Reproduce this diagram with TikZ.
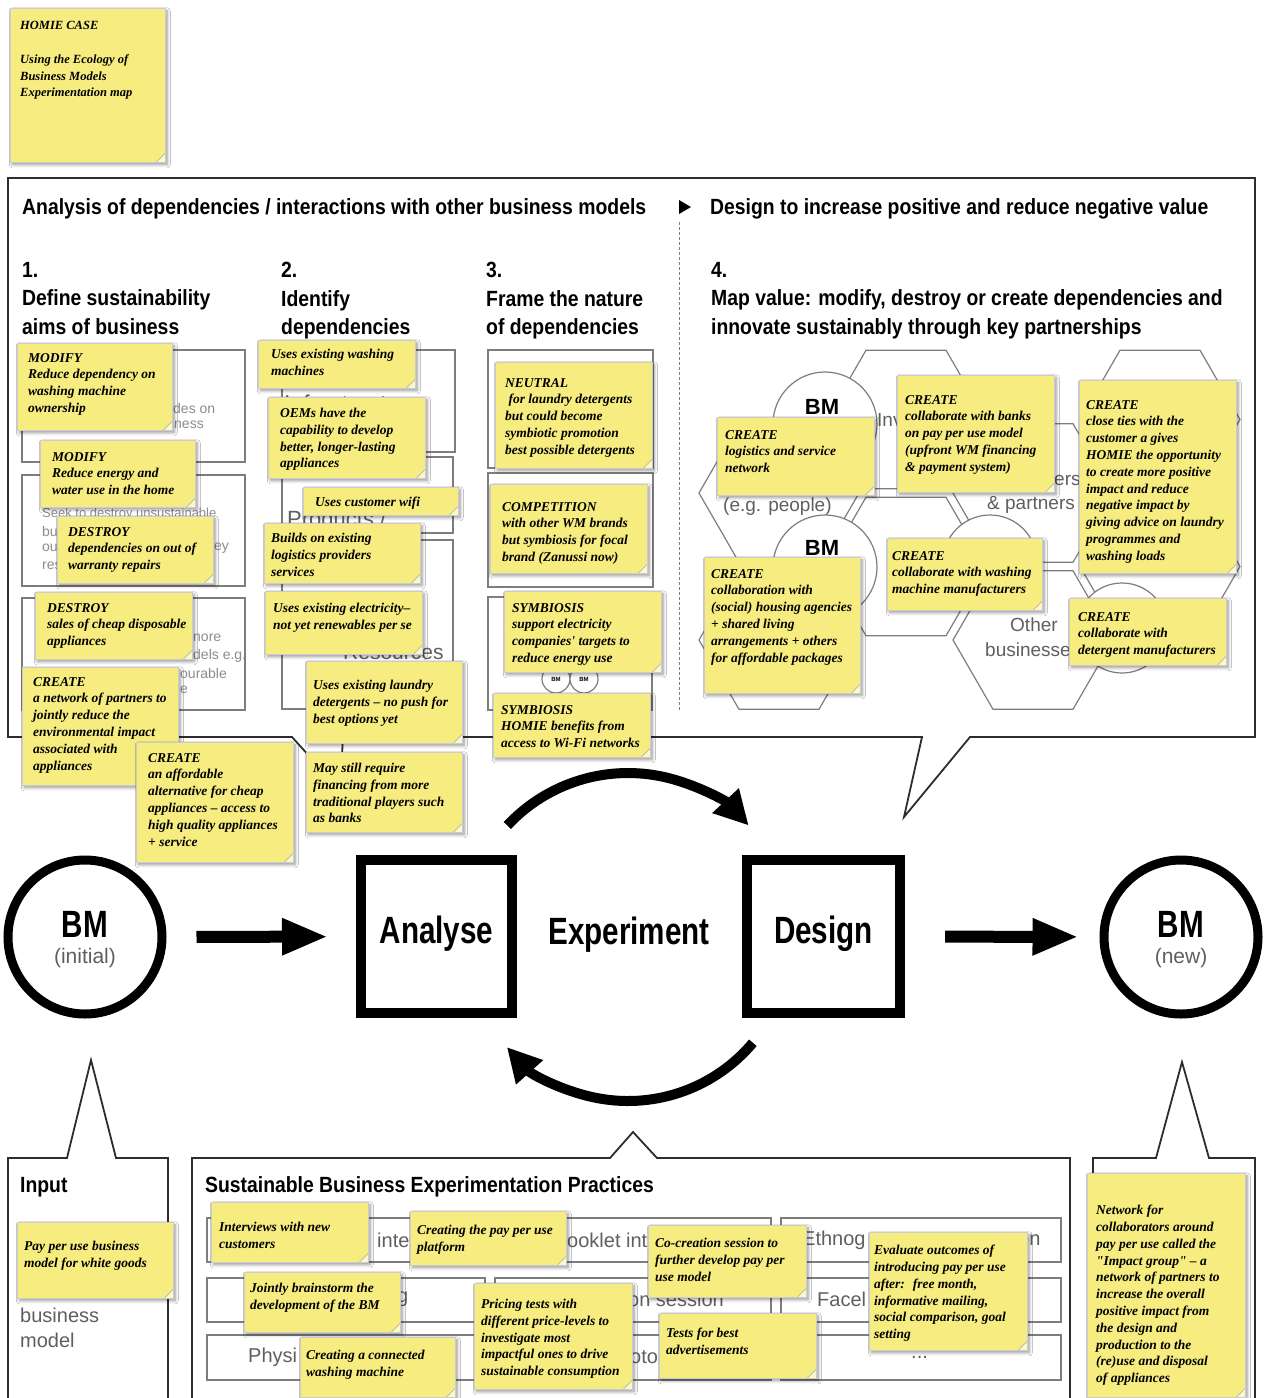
\documentclass[tikz,border=0pt]{standalone}
\usepackage{fontspec}
\setmainfont{Liberation Sans}
\newfontfamily\condfont[FakeStretch=0.78]{Liberation Sans}
\newfontfamily\titfont[FakeStretch=0.88]{Liberation Sans}
\newfontfamily\notafont{Liberation Serif}
\usetikzlibrary{arrows.meta,positioning,shapes.geometric,shadows.blur}

\definecolor{notaamarillo}{RGB}{246,236,128}
\definecolor{notapliegue}{RGB}{252,248,205}
\definecolor{lineagris}{RGB}{125,125,125}
\definecolor{textogris}{RGB}{95,95,95}
\definecolor{fraggris}{RGB}{140,140,140}
\definecolor{marco}{RGB}{45,45,45}

\tikzset{
  nota/.style={anchor=north west, fill=notaamarillo, draw=black!20, line width=0.5pt, inner sep=0pt,
    blur shadow={shadow xshift=2pt, shadow yshift=-2.5pt, shadow blur steps=5, shadow blur radius=3pt, shadow opacity=40},
    path picture={
      \fill[notapliegue] ([xshift=-9pt]path picture bounding box.south east) -- ([yshift=9pt]path picture bounding box.south east) -- (path picture bounding box.south east) -- cycle;
      \draw[black!35, line width=0.5pt] ([xshift=-9pt]path picture bounding box.south east) -- ([yshift=9pt]path picture bounding box.south east);}},
  notatxt/.style={anchor=north west, inner sep=0pt, align=left, font=\notafont\bfseries\itshape\fontsize{13.5}{16.8}\selectfont},
  titulo/.style={inner sep=0pt, align=left, font=\titfont\bfseries\fontsize{22}{28.5}\selectfont},
  grande/.style={inner sep=0pt, font=\condfont\bfseries\fontsize{38}{40}\selectfont},
  plant/.style={anchor=west, inner sep=0pt, text=textogris, font=\fontsize{19}{22}\selectfont},
  frag/.style={anchor=west, inner sep=0pt, text=fraggris, font=\fontsize{14}{16}\selectfont},
  hexa/.style={regular polygon, regular polygon sides=6, minimum size=160pt, draw=lineagris, line width=1.2pt, inner sep=0pt},
  bmchico/.style={circle, draw=lineagris, fill=white, line width=1.2pt, inner sep=0pt},
  caja/.style={draw=lineagris, line width=1.2pt},
  bmgrande/.style={circle, draw=black, line width=9pt, minimum size=154pt, inner sep=0pt},
  paso/.style={rectangle, draw=black, line width=10pt, minimum height=153pt, inner sep=0pt},
  flecha/.style={line width=12pt, -{Triangle[length=46pt, width=34pt]}},
  cicloflecha/.style={line width=10pt, -{Triangle[length=34pt, width=34pt]}},
  burbuja/.style={draw=marco, line width=1.8pt, line join=miter}
}

\begin{document}
\begin{tikzpicture}[x=1pt, y=-1pt]
\useasboundingbox (0,0) rectangle (1265,1398);
\fill[white] (0,0) rectangle (1265,1398);

% Nota portada
\node[nota, minimum width=155pt, minimum height=154pt] (ncaso) at (10,8) {};
\node[notatxt, font=\notafont\bfseries\itshape\fontsize{12.5}{16.5}\selectfont, below right=13pt and 10pt of ncaso.north west] (ncasot) {HOMIE CASE\\[18pt]Using the Ecology of\\Business Models\\Experimentation map};

% Burbuja superior
\draw[burbuja] (8,178) -- (1255,178) -- (1255,737) -- (970,737) -- (904,817) -- (922,737) -- (343,737) -- (340,790) -- (292,737) -- (8,737) -- cycle;

% Titulos
\node[titulo, anchor=base west] (tanalisis) at (22,214) {Analysis of dependencies / interactions with other business models};
\node[titulo, anchor=base west] (tdiseno) at (710,214) {Design to increase positive and reduce negative value};
\fill[black] (679,200) -- (691,207) -- (679,214) -- cycle;
\draw[lineagris, line width=1pt, dash pattern=on 3pt off 2pt] (679,222) -- (679,712);

\node[titulo, anchor=north west] (paso1) at (22,262) {1.\\Define sustainability\\aims of business};
\node[titulo, anchor=north west] (paso2) at (281,262) {2.\\Identify\\dependencies};
\node[titulo, anchor=north west] (paso3) at (486,262) {3.\\Frame the nature\\of dependencies};
\node[titulo, anchor=north west] (paso4) at (711,262) {4.\\Map value: modify, destroy or create dependencies and\\innovate sustainably through key partnerships};

% Plantilla columna 1
\draw[caja] (22,350) rectangle (245,462);
\draw[caja] (22,475) rectangle (245,586);
\draw[caja] (22,598) rectangle (245,710);
\node[frag] (f1a) at (173,408) {des on};
\node[frag] (f1b) at (174,425) {ness};
\node[frag, font=\fontsize{13}{15}\selectfont] (f2a) at (42,514) {Seek to destroy unsustainable};
\node[frag] (f2b) at (42,531) {bu};
\node[frag] (f2c) at (42,548) {ou};
\node[frag] (f2d) at (42,566) {res};
\node[frag] (f2e) at (214,548) {ey};
\node[frag] (f3a) at (193,638) {nore};
\node[frag] (f3b) at (193,656) {dels e.g.};
\node[frag] (f3c) at (180,673) {ourable};
\node[frag] (f3d) at (180,690) {e};

% Plantilla columna 2
\draw[caja] (282,350) rectangle (455,452);
\draw[caja] (282,457) rectangle (453,533);
\draw[caja] (282,540) rectangle (453,709);
\node[plant, font=\fontsize{23}{26}\selectfont] (g2a) at (284,403) {Infrastructure};
\node[plant, font=\fontsize{22}{26}\selectfont] (g2b) at (287,519) {Products /};
\node[plant, font=\fontsize{21}{24}\selectfont] (g2c) at (343,652) {Resources};

% Plantilla columna 3
\draw[caja] (488,350) rectangle (653,468);
\draw[caja] (488,473) rectangle (653,587);
\draw[caja] (488,597) rectangle (652,710);
\node[bmchico, minimum size=28pt, font=\bfseries\fontsize{6}{7}\selectfont] (cbm5) at (556,679) {BM};
\node[bmchico, minimum size=28pt, font=\bfseries\fontsize{6}{7}\selectfont] (cbm6) at (584,679) {BM};

% Hexagonos columna 4
\node[hexa] (hx1) at (779,493) {};
\node[hexa] (hx2) at (779,640) {};
\node[hexa] (hx3) at (906,419.5) {};
\node[hexa] (hx4) at (906,566.5) {};
\node[hexa] (hx5) at (1033,493) {};
\node[hexa] (hx6) at (1033,640) {};
\node[hexa] (hx7) at (1160,419.5) {};
\node[hexa] (hx8) at (1160,566.5) {};
\node[bmchico, minimum size=104pt] (cbm1) at (825,424) {};
\node[bmchico, minimum size=104pt] (cbm2) at (825,567) {};
\node[bmchico, minimum size=94pt] (cbm3) at (990,562) {};
\node[bmchico, minimum size=90pt] (cbm4) at (1122,628) {};
\node[inner sep=0pt, font=\bfseries\fontsize{22}{24}\selectfont] (tbm1) at (822,407) {BM};
\node[inner sep=0pt, font=\bfseries\fontsize{22}{24}\selectfont] (tbm2) at (822,548) {BM};
\node[plant] (g4a) at (877,420) {Inv};
\node[plant] (g4b) at (1054,480) {ers};
\node[plant] (g4c) at (987,505) {\& partners};
\node[plant] (g4d) at (723,507) {(e.g. people)};
\node[plant] (g4e) at (1010,625) {Other};
\node[plant] (g4f) at (985,650) {businesses};

% Notas columna 1
\node[nota, minimum width=155pt, minimum height=87pt] (nmod1) at (17,343) {};
\node[notatxt, below right=10pt and 11pt of nmod1.north west] (nmod1t) {MODIFY\\Reduce dependency on\\washing machine\\ownership};
\node[nota, minimum width=155pt, minimum height=67pt] (nmod2) at (40,440) {};
\node[notatxt, below right=12pt and 12pt of nmod2.north west] (nmod2t) {MODIFY\\Reduce energy and\\water use in the home};
\node[nota, minimum width=156pt, minimum height=67pt] (ndes1) at (57,516) {};
\node[notatxt, below right=11pt and 11pt of ndes1.north west] (ndes1t) {DESTROY\\dependencies on out of\\warranty repairs};
\node[nota, minimum width=157pt, minimum height=67pt] (ndes2) at (35,592) {};
\node[notatxt, below right=11pt and 12pt of ndes2.north west] (ndes2t) {DESTROY\\sales of cheap disposable\\appliances};
\node[nota, minimum width=156pt, minimum height=118pt] (ncre1) at (22,667) {};
\node[notatxt, below right=10pt and 11pt of ncre1.north west] (ncre1t) {CREATE\\a network of partners to\\jointly reduce the\\environmental impact\\associated with\\appliances};
\node[nota, minimum width=157pt, minimum height=120pt] (ncre2) at (136,742) {};
\node[notatxt, below right=11pt and 12pt of ncre2.north west] (ncre2t) {CREATE\\an affordable\\alternative for cheap\\appliances – access to\\high quality appliances\\+ service};

% Notas columna 2
\node[nota, minimum width=157pt, minimum height=48pt] (ndep1) at (258,340) {};
\node[notatxt, below right=9pt and 13pt of ndep1.north west] (ndep1t) {Uses existing washing\\machines};
\node[nota, minimum width=157pt, minimum height=81pt] (ndep2) at (268,397) {};
\node[notatxt, below right=11pt and 12pt of ndep2.north west] (ndep2t) {OEMs have the\\capability to develop\\better, longer-lasting\\appliances};
\node[nota, minimum width=155pt, minimum height=28pt] (ndep3) at (303,487) {};
\node[notatxt, below right=10pt and 12pt of ndep3.north west] (ndep3t) {Uses customer wifi};
\node[nota, minimum width=156pt, minimum height=60pt] (ndep4) at (264,523) {};
\node[notatxt, below right=10pt and 7pt of ndep4.north west] (ndep4t) {Builds on existing\\logistics providers\\services};
\node[nota, minimum width=157pt, minimum height=63pt] (ndep5) at (265,591) {};
\node[notatxt, below right=12pt and 8pt of ndep5.north west] (ndep5t) {Uses existing electricity–\\not yet renewables per se};
\node[nota, minimum width=156pt, minimum height=82pt] (ndep6) at (306,661) {};
\node[notatxt, below right=19pt and 7pt of ndep6.north west] (ndep6t) {Uses existing laundry\\detergents – no push for\\best options yet};
\node[nota, minimum width=156pt, minimum height=80pt] (ndep7) at (306,752) {};
\node[notatxt, below right=11pt and 7pt of ndep7.north west] (ndep7t) {May still require\\financing from more\\traditional players such\\as banks};

% Notas columna 3
\node[nota, minimum width=157pt, minimum height=106pt] (nnat1) at (495,362) {};
\node[notatxt, below right=16pt and 10pt of nnat1.north west] (nnat1t) {NEUTRAL\\\ for laundry detergents\\but could become\\symbiotic promotion\\best possible detergents};
\node[nota, minimum width=157pt, minimum height=89pt] (nnat2) at (490,484) {};
\node[notatxt, below right=18pt and 12pt of nnat2.north west] (nnat2t) {COMPETITION\\with other WM brands\\but symbiosis for focal\\brand (Zanussi now)};
\node[nota, minimum width=157pt, minimum height=81pt] (nnat3) at (504,591) {};
\node[notatxt, below right=12pt and 8pt of nnat3.north west] (nnat3t) {SYMBIOSIS\\support electricity\\companies' targets to\\reduce energy use};
\node[nota, minimum width=157pt, minimum height=64pt] (nnat4) at (493,693) {};
\node[notatxt, below right=12pt and 8pt of nnat4.north west] (nnat4t) {SYMBIOSIS\\HOMIE benefits from\\access to Wi-Fi networks};

% Notas columna 4
\node[nota, minimum width=157pt, minimum height=78pt] (nval1) at (717,417) {};
\node[notatxt, below right=13pt and 8pt of nval1.north west] (nval1t) {CREATE\\logistics and service\\network};
\node[nota, minimum width=157pt, minimum height=117pt] (nval2) at (897,375) {};
\node[notatxt, below right=20pt and 8pt of nval2.north west] (nval2t) {CREATE\\collaborate with banks\\on pay per use model\\(upfront WM financing\\\& payment system)};
\node[nota, minimum width=157pt, minimum height=193pt] (nval3) at (1079,380) {};
\node[notatxt, below right=20pt and 7pt of nval3.north west] (nval3t) {CREATE\\close ties with the\\customer a gives\\HOMIE the opportunity\\to create more positive\\impact and reduce\\negative impact by\\giving advice on laundry\\programmes and\\washing loads};
\node[nota, minimum width=155pt, minimum height=72pt] (nval4) at (887,538) {};
\node[notatxt, below right=13pt and 5pt of nval4.north west] (nval4t) {CREATE\\collaborate with washing\\machine manufacturers};
\node[nota, minimum width=156pt, minimum height=136pt] (nval5) at (704,557) {};
\node[notatxt, below right=12pt and 7pt of nval5.north west] (nval5t) {CREATE\\collaboration with\\(social) housing agencies\\+ shared living\\arrangements + others\\for affordable packages};
\node[nota, minimum width=157pt, minimum height=67pt] (nval6) at (1069,598) {};
\node[notatxt, below right=14pt and 9pt of nval6.north west] (nval6t) {CREATE\\collaborate with\\detergent manufacturers};

% Ciclo central
\node[bmgrande] (bmini) at (85,937) {};
\node[inner sep=0pt, font=\condfont\bfseries\fontsize{38}{40}\selectfont] (bminit) at (85,924) {BM};
\node[inner sep=0pt, text=textogris, font=\fontsize{21}{24}\selectfont] (bminis) at (85,958) {(initial)};
\node[paso, minimum width=151pt] (analyse) at (436.5,936.5) {};
\node[grande] (analyset) at (436.5,934) {Analyse};
\node[grande] (experiment) at (629,935) {Experiment};
\node[paso, minimum width=153pt] (design) at (823.5,936.5) {};
\node[grande] (designt) at (823.5,934) {Design};
\node[bmgrande] (bmnew) at (1181,937) {};
\node[inner sep=0pt, font=\condfont\bfseries\fontsize{38}{40}\selectfont] (bmnewt) at (1181,924) {BM};
\node[inner sep=0pt, text=textogris, font=\fontsize{21}{24}\selectfont] (bmnews) at (1181,958) {(new)};
\draw[flecha, shorten <=30pt, shorten >=28pt] (bmini) -- (analyse);
\draw[flecha, shorten <=40pt, shorten >=21pt] (design) -- (bmnew);
\coordinate (ciclo) at (628,938);
\draw[cicloflecha] ([shift={(-137:165)}]ciclo) arc[start angle=-137, end angle=-43, radius=165];
\draw[cicloflecha] ([shift={(40:163)}]ciclo) arc[start angle=40, end angle=138, radius=163];

% Cajas inferiores
\draw[burbuja] (8,1402) -- (8,1158) -- (67,1158) -- (91,1060) -- (116,1158) -- (168,1158) -- (168,1402);
\draw[burbuja] (192,1402) -- (192,1158) -- (610,1158) -- (633,1132) -- (657,1158) -- (1070,1158) -- (1070,1402);
\draw[burbuja] (1093,1402) -- (1093,1158) -- (1156,1158) -- (1182,1062) -- (1209,1158) -- (1255,1158) -- (1255,1402);
\node[titulo, anchor=base west] (tinput) at (20,1192) {Input};
\node[titulo, anchor=base west] (tpracticas) at (205,1192) {Sustainable Business Experimentation Practices};
\node[plant, font=\fontsize{20}{24}\selectfont] (gbus) at (20,1315) {business};
\node[plant, font=\fontsize{20}{24}\selectfont] (gmod) at (20,1340) {model};

% Rejilla de practicas
\draw[caja] (207,1218) rectangle (485,1262);
\draw[caja] (495,1218) rectangle (771,1262);
\draw[caja] (781,1218) rectangle (1061,1262);
\draw[caja] (207,1278) rectangle (485,1322);
\draw[caja] (495,1278) rectangle (771,1322);
\draw[caja] (781,1278) rectangle (1061,1322);
\draw[caja] (207,1335) rectangle (485,1380);
\draw[caja] (495,1335) rectangle (771,1380);
\draw[caja] (781,1335) rectangle (1061,1380);
\node[plant, font=\fontsize{20}{24}\selectfont] (p1a) at (377,1240) {inte};
\node[plant, font=\fontsize{20}{24}\selectfont] (p1b) at (567,1240) {ooklet int};
\node[plant, font=\fontsize{20}{24}\selectfont] (p1c) at (802,1240) {Ethnog};
\node[plant, font=\fontsize{20}{24}\selectfont] (p1d) at (1018,1240) {on};
\node[plant, font=\fontsize{20}{24}\selectfont] (p2a) at (397,1299) {g};
\node[plant, font=\fontsize{20}{24}\selectfont] (p2b) at (628,1299) {on session};
\node[plant, font=\fontsize{20}{24}\selectfont] (p2c) at (817,1299) {Facel};
\node[plant, font=\fontsize{20}{24}\selectfont] (p3a) at (248,1357) {Physi};
\node[plant, font=\fontsize{20}{24}\selectfont] (p3b) at (630,1357) {oto};
\node[plant, font=\fontsize{20}{24}\selectfont] (p3c) at (911,1357) {...};

% Notas inferiores
\node[nota, minimum width=156pt, minimum height=76pt] (nent) at (17,1222) {};
\node[notatxt, below right=19pt and 7pt of nent.north west] (nentt) {Pay per use business\\model for white goods};
\node[nota, minimum width=157pt, minimum height=60pt] (nexp1) at (211,1202) {};
\node[notatxt, below right=20pt and 8pt of nexp1.north west] (nexp1t) {Interviews with new\\customers};
\node[nota, minimum width=156pt, minimum height=54pt] (nexp2) at (410,1211) {};
\node[notatxt, below right=14pt and 7pt of nexp2.north west] (nexp2t) {Creating the pay per use\\platform};
\node[nota, minimum width=156pt, minimum height=60pt] (nexp3) at (244,1272) {};
\node[notatxt, below right=11pt and 6pt of nexp3.north west] (nexp3t) {Jointly brainstorm the\\development of the BM};
\node[nota, minimum width=158pt, minimum height=106pt] (nexp4) at (474,1283) {};
\node[notatxt, below right=16pt and 7pt of nexp4.north west] (nexp4t) {Pricing tests with\\different price-levels to\\investigate most\\impactful ones to drive\\sustainable consumption};
\node[nota, minimum width=155pt, minimum height=60pt] (nexp5) at (300,1337) {};
\node[notatxt, below right=13pt and 6pt of nexp5.north west] (nexp5t) {Creating a connected\\washing machine};
\node[nota, minimum width=158pt, minimum height=72pt] (nexp6) at (648,1225) {};
\node[notatxt, below right=13pt and 7pt of nexp6.north west] (nexp6t) {Co-creation session to\\further develop pay per\\use model};
\node[nota, minimum width=157pt, minimum height=65pt] (nexp7) at (659,1313) {};
\node[notatxt, below right=15pt and 7pt of nexp7.north west] (nexp7t) {Tests for best\\advertisements};
\node[nota, minimum width=158pt, minimum height=118pt] (nexp8) at (869,1232) {};
\node[notatxt, below right=13pt and 5pt of nexp8.north west] (nexp8t) {Evaluate outcomes of\\introducing pay per use\\after: \ free month,\\informative mailing,\\social comparison, goal\\setting};
\node[nota, minimum width=158pt, minimum height=224pt] (nsal) at (1087,1173) {};
\node[notatxt, below right=32pt and 9pt of nsal.north west] (nsalt) {Network for\\collaborators around\\pay per use called the\\"Impact group" – a\\network of partners to\\increase the overall\\positive impact from\\the design and\\production to the\\(re)use and disposal\\of appliances};

\end{tikzpicture}
\end{document}
